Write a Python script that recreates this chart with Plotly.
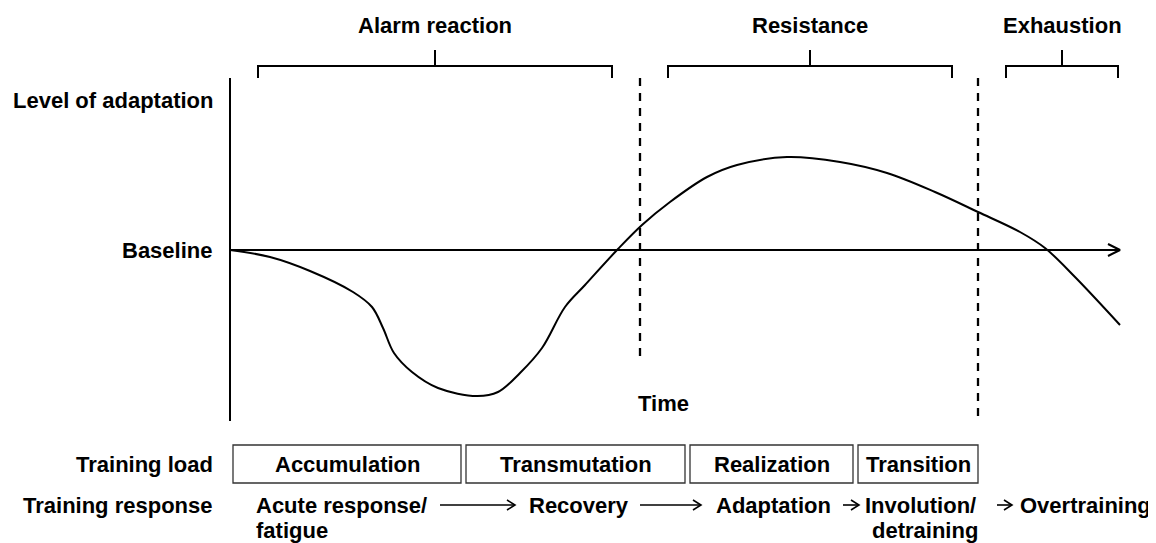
import plotly.graph_objects as go

# ---- data (time units, level units; baseline level = 0) ----
curve_time = [0, 40, 80, 123, 142, 153, 164, 182, 208, 247, 268, 290, 312, 335, 355, 388, 412, 440, 477, 507, 557, 610, 657, 705, 748, 790, 815, 845, 890]
curve_level = [0, -7, -21, -42, -57, -78, -103, -122, -138, -146, -142, -123, -98, -57, -35, 1, 25, 48, 73, 85, 93, 88, 77, 58, 38, 18, 2, -27, -75]

phase_names = ["Alarm reaction", "Resistance", "Exhaustion"]
phase_start = [28, 438, 776]
phase_end = [382, 722, 888]

divider_time = [410, 748]
divider_bottom = [-112, -168]

load_names = ["Accumulation", "Transmutation", "Realization", "Transition"]
load_start = [3, 236, 460, 628]
load_end = [231, 455, 623, 748]

response_line1 = ["Acute response/", "Recovery", "Adaptation", "Involution/", "Overtraining"]
response_line2 = ["fatigue", "", "", "detraining", ""]
response_left = [24, 297, 484, 633, 788]
arrow_start = [210, 410, 613, 767]
arrow_end = [285, 471, 629, 782]

# ---- layout constants ----
FONT = dict(family="Liberation Sans, Arial, sans-serif", size=22, color="black", weight="bold")
BLACK = "black"
LW = 2
axis_top, axis_bottom, time_end = 172, -171, 890
bracket_y, bracket_tick, bracket_mid, phase_label_y = 184, 172, 200, 225
box_top, box_bottom = -195, -233
load_y, resp_y, resp_y2 = -214, -255, -280

fig = go.Figure()

def seg(xs, ys, width=LW, dash="solid"):
    fig.add_trace(go.Scatter(x=xs, y=ys, mode="lines", line=dict(color=BLACK, width=width, dash=dash),
                             hoverinfo="skip", showlegend=False))

# vertical axis
seg([0, 0], [axis_top, axis_bottom])
# baseline with open arrowhead
seg([0, time_end], [0, 0])
seg([time_end - 12, time_end, time_end - 12], [6, 0, -6])

# curve
fig.add_trace(go.Scatter(x=curve_time, y=curve_level, mode="lines",
                         line=dict(color=BLACK, width=LW, shape="spline", smoothing=1.0),
                         hoverinfo="skip", showlegend=False))

# dashed dividers
for t, b in zip(divider_time, divider_bottom):
    seg([t, t], [bracket_tick, b], width=2.3, dash="8px,7px")

annotations = []
# brackets
for name, s, e in zip(phase_names, phase_start, phase_end):
    m = (s + e) / 2
    seg([s, s, e, e], [bracket_tick, bracket_y, bracket_y, bracket_tick])
    seg([m, m], [bracket_y, bracket_mid])
    annotations.append(dict(x=m, y=phase_label_y, text=name, showarrow=False, font=FONT,
                            xanchor="center", yanchor="middle"))

# load boxes
for name, s, e in zip(load_names, load_start, load_end):
    fig.add_shape(type="rect", x0=s, x1=e, y0=box_bottom, y1=box_top, line=dict(color="#333", width=1.3))
    annotations.append(dict(x=(s + e) / 2, y=load_y, text=name, showarrow=False, font=FONT,
                            xanchor="center", yanchor="middle"))

# response texts
for l1, l2, x in zip(response_line1, response_line2, response_left):
    annotations.append(dict(x=x, y=resp_y, text=l1, showarrow=False, font=FONT, xanchor="left", yanchor="middle"))
    if l2:
        if l2 == "detraining":
            annotations.append(dict(x=x + 62, y=resp_y2, text=l2, showarrow=False, font=FONT,
                                    xanchor="center", yanchor="middle"))
        else:
            annotations.append(dict(x=x, y=resp_y2, text=l2, showarrow=False, font=FONT,
                                    xanchor="left", yanchor="middle"))

# response arrows
for s, e in zip(arrow_start, arrow_end):
    seg([s, e], [resp_y, resp_y], width=1.6)
    seg([e - 8, e, e - 8], [resp_y + 5, resp_y, resp_y - 5], width=1.6)

# side labels
for txt, y in [("Level of adaptation", 150), ("Baseline", 0), ("Training load", load_y), ("Training response", resp_y)]:
    annotations.append(dict(x=-15, y=y, text=txt, showarrow=False, font=FONT, xanchor="right", yanchor="middle"))
annotations.append(dict(x=433, y=-153, text="Time", showarrow=False, font=FONT, xanchor="center", yanchor="middle"))

# page body has an 8px default margin: figure is sized/ranged so the drawing lands on the window pixels
fig.update_layout(
    width=1148, height=535, margin=dict(l=0, r=0, t=0, b=0),
    paper_bgcolor="white", plot_bgcolor="white",
    xaxis=dict(range=[-222, 926], visible=False, fixedrange=True),
    yaxis=dict(range=[-293, 242], visible=False, fixedrange=True),
    annotations=annotations, showlegend=False,
)

fig.write_html("out.html")
